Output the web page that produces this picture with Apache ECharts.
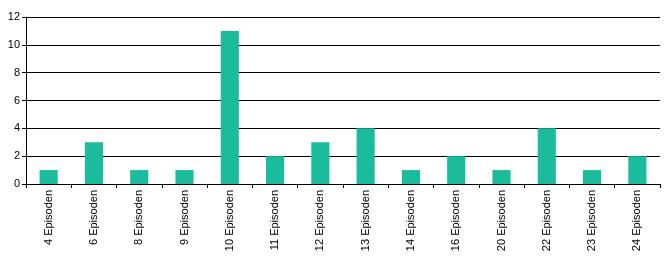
<!DOCTYPE html>
<html><head><meta charset="utf-8">
<script src="https://cdn.jsdelivr.net/npm/echarts@6/dist/echarts.min.js"></script>
<style>html,body{margin:0;padding:0;background:#fff}#c{width:670px;height:260px}</style>
</head><body><div id="c"></div>
<script>
const categories = ["4 Episoden","6 Episoden","8 Episoden","9 Episoden","10 Episoden","11 Episoden","12 Episoden","13 Episoden","14 Episoden","16 Episoden","20 Episoden","22 Episoden","23 Episoden","24 Episoden"];
const values = [1,3,1,1,11,2,3,4,1,2,1,4,1,2];
const yTicks = [0,2,4,6,8,10,12];
const chart = echarts.init(document.getElementById('c'));
chart.setOption({
  animation:false,
  grid:{left:26,right:10,top:17,bottom:76,containLabel:false},
  xAxis:{type:'category',data:categories,
    axisLine:{lineStyle:{color:'#000',width:1}},
    axisTick:{show:true,alignWithLabel:false,length:4,lineStyle:{color:'#000'}},
    axisLabel:{rotate:90,interval:0,color:'#000',fontFamily:'Liberation Sans',fontSize:11,margin:6}},
  yAxis:{type:'value',min:0,max:12,interval:2,
    axisLine:{show:true,lineStyle:{color:'#000'}},
    axisTick:{show:true,length:4,lineStyle:{color:'#000'}},
    splitLine:{lineStyle:{color:'#000',width:1}},
    axisLabel:{color:'#000',fontFamily:'Liberation Sans',fontSize:11,margin:6,
      formatter:v=>yTicks.includes(v)?String(v):''}},
  series:[{type:'bar',data:values,barWidth:'40%',itemStyle:{color:'#1ABC9C'}}]
});
</script></body></html>
